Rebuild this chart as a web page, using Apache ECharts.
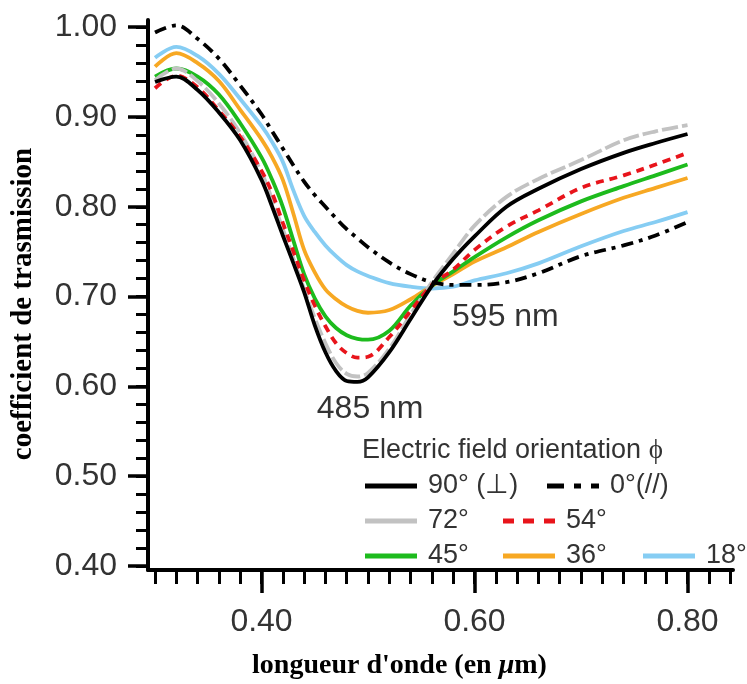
<!DOCTYPE html>
<html><head><meta charset="utf-8">
<script src="https://cdn.jsdelivr.net/npm/echarts@6/dist/echarts.min.js"></script>
<style>html,body{margin:0;padding:0;background:#fff}#c{width:747px;height:684px}</style>
</head><body><div id="c"></div>
<script>
// ---- data ----
const wavelength = [0.30,0.32,0.34,0.36,0.38,0.40,0.41,0.42,0.43,0.44,0.45,0.46,0.47,0.48,0.49,0.50,0.52,0.54,0.56,0.58,0.60,0.63,0.66,0.70,0.74,0.77,0.80];
const phi90 = [0.939,0.945,0.930,0.905,0.874,0.830,0.800,0.768,0.737,0.705,0.668,0.638,0.617,0.606,0.605,0.610,0.638,0.675,0.712,0.742,0.767,0.800,0.820,0.842,0.860,0.871,0.881];
const phi0  = [0.994,1.002,0.987,0.965,0.935,0.903,0.884,0.865,0.846,0.828,0.813,0.800,0.787,0.775,0.765,0.755,0.738,0.725,0.716,0.713,0.713,0.716,0.726,0.745,0.757,0.768,0.783];
const phi72 = [0.941,0.954,0.940,0.915,0.882,0.838,0.808,0.775,0.742,0.708,0.676,0.648,0.626,0.614,0.611,0.615,0.642,0.680,0.716,0.748,0.779,0.811,0.831,0.852,0.874,0.884,0.891];
const phi54 = [0.932,0.946,0.933,0.907,0.878,0.840,0.815,0.782,0.750,0.718,0.690,0.667,0.648,0.637,0.632,0.633,0.655,0.684,0.713,0.730,0.752,0.778,0.796,0.821,0.835,0.847,0.860];
const phi45 = [0.945,0.954,0.945,0.925,0.893,0.855,0.830,0.800,0.762,0.725,0.698,0.678,0.665,0.657,0.653,0.652,0.662,0.690,0.712,0.728,0.744,0.766,0.785,0.806,0.823,0.835,0.847];
const phi36 = [0.956,0.971,0.960,0.940,0.908,0.875,0.855,0.830,0.792,0.752,0.727,0.708,0.697,0.689,0.684,0.682,0.685,0.697,0.712,0.725,0.739,0.755,0.772,0.792,0.810,0.821,0.832];
const phi18 = [0.966,0.978,0.968,0.948,0.920,0.890,0.872,0.850,0.818,0.790,0.772,0.757,0.745,0.735,0.728,0.723,0.715,0.711,0.709,0.711,0.718,0.726,0.737,0.756,0.773,0.783,0.794];

const seriesNames = ['90° (⊥)','0°(//)','72°','54°','45°','36°','18°'];
const legendTitle = 'Electric field orientation';
const xTitle = "longueur d'onde (en ";
const yTitle = 'coefficient de trasmission';
const xMajorTicks = [0.40,0.60,0.80];
const yMajorTicks = [0.40,0.50,0.60,0.70,0.80,0.90,1.00];
const annotations = [
  {text:'485 nm', x:0.502, y:0.575},
  {text:'595 nm', x:0.629, y:0.677}
];

// minor tick positions (every 0.02)
const xMinorTicks = [];
for (let i = 15; i <= 42; i++) xMinorTicks.push(+(i*0.02).toFixed(2));
const yMinorTicks = [];
for (let i = 20; i <= 50; i++) yMinorTicks.push(+(i*0.02).toFixed(2));

const pairs = arr => wavelength.map((w,i)=>[w, arr[i]]);

const solidIcon = 'path://M0,0H52V5H0Z';
const dashDotIcon = 'path://M0,0H17V5H0Z M27,0H34V5H27Z M44,0H52V5H44Z';
const dashIcon = 'path://M0,0H11V5H0Z M20,0H31V5H20Z M41,0H52V5H41Z';

const styles = {
  '90° (⊥)': {color:'#000000', type:'solid', z:6, icon: solidIcon},
  '0°(//)':  {color:'#000000', type:[12,6,4,6], z:7, icon: dashDotIcon},
  '72°':     {color:'#c2c2c2', type:[16,4], z:4, icon: solidIcon},
  '54°':     {color:'#e8141b', type:[8,6], z:5, icon: dashIcon},
  '45°':     {color:'#1dbb1d', type:'solid', z:3, icon: solidIcon},
  '36°':     {color:'#f7a823', type:'solid', z:2, icon: solidIcon},
  '18°':     {color:'#86cdf3', type:'solid', z:1, icon: solidIcon}
};
const values = {'90° (⊥)':phi90,'0°(//)':phi0,'72°':phi72,'54°':phi54,'45°':phi45,'36°':phi36,'18°':phi18};

const font = "'Liberation Sans', Arial, sans-serif";
const serif = "'Liberation Serif', 'Times New Roman', serif";

const series = seriesNames.map(n => ({
  name: n, type: 'line', data: pairs(values[n]), symbol: 'none', smooth: 0.35,
  z: styles[n].z,
  lineStyle: {color: styles[n].color, width: 3.8, type: styles[n].type},
  itemStyle: {color: styles[n].color},
  emphasis: {disabled: true}
}));
series[0].markPoint = {
  symbol: 'circle', symbolSize: 0, silent: true,
  label: {show: true, position: 'inside', formatter: p => p.name, fontSize: 32, color: '#333', fontFamily: font},
  data: annotations.map(a => ({name: a.text, coord: [a.x, a.y]}))
};

const legendPos = {
  '90° (⊥)': [365, 486], '0°(//)': [547, 486],
  '72°': [365, 521], '54°': [503, 521],
  '45°': [365, 556], '36°': [503, 556], '18°': [643, 556]
};
const legends = seriesNames.map(n => ({
  data: [{name: n, icon: styles[n].icon, itemStyle: {color: styles[n].color}}],
  left: legendPos[n][0], top: legendPos[n][1] - 14, padding: 0,
  itemWidth: 52, itemHeight: 5, selectedMode: false,
  textStyle: {fontSize: 27, color: '#333', fontFamily: font, lineHeight: 28, padding: [0,0,0,6]}
}));

const xMin = 0.2934, xMax = 0.8427, yMin = 0.3955, yMax = 1.008;

const option = {
  animation: false,
  backgroundColor: '#fff',
  title: {
    text: legendTitle + ' {p|ϕ}', left: 362, top: 437, padding: 0,
    textStyle: {fontSize: 27, fontWeight: 'normal', color: '#333', fontFamily: font, lineHeight: 28,
      rich: {p: {fontSize: 27, fontFamily: serif, color: '#333'}}}
  },
  legend: legends,
  grid: {left: 148, right: 14, top: 20, bottom: 114, containLabel: false, outerBoundsMode: 'none'},
  xAxis: [
    {type: 'value', min: xMin, max: xMax, position: 'bottom',
     axisLine: {show: true, lineStyle: {color: '#000', width: 4}},
     axisTick: {show: true, customValues: xMinorTicks, length: 14, lineStyle: {color: '#000', width: 3}},
     axisLabel: {show: false}, splitLine: {show: false}},
    {type: 'value', min: xMin, max: xMax, position: 'bottom',
     axisLine: {show: false},
     axisTick: {show: true, customValues: xMajorTicks, length: 23, lineStyle: {color: '#000', width: 3.5}},
     axisLabel: {show: true, customValues: xMajorTicks, formatter: v => v.toFixed(2), margin: 36,
       fontSize: 32, color: '#333', fontFamily: font},
     splitLine: {show: false},
     name: xTitle + '{i|μ}m)', nameLocation: 'middle', nameGap: 82,
     nameTextStyle: {fontSize: 28, fontWeight: 'bold', fontFamily: serif, color: '#000', padding: [0, 82, 0, 0],
       rich: {i: {fontSize: 28, fontWeight: 'bold', fontStyle: 'italic', fontFamily: serif, color: '#000'}}}}
  ],
  yAxis: [
    {type: 'value', min: yMin, max: yMax, position: 'left',
     axisLine: {show: true, lineStyle: {color: '#000', width: 4}},
     axisTick: {show: true, customValues: yMinorTicks, length: 12, lineStyle: {color: '#000', width: 3}},
     axisLabel: {show: false}, splitLine: {show: false}},
    {type: 'value', min: yMin, max: yMax, position: 'left',
     axisLine: {show: false},
     axisTick: {show: true, customValues: yMajorTicks, length: 20, lineStyle: {color: '#000', width: 3.5}},
     axisLabel: {show: true, customValues: yMajorTicks, formatter: v => v.toFixed(2), margin: 31,
       fontSize: 32, color: '#333', fontFamily: font},
     splitLine: {show: false},
     name: yTitle, nameLocation: 'middle', nameGap: 110, nameRotate: 90,
     nameTextStyle: {fontSize: 29, fontWeight: 'bold', fontFamily: serif, color: '#000', padding: [0, 18, 0, 0]}}
  ],
  series: series
};

const chart = echarts.init(document.getElementById('c'), null, {renderer: 'canvas'});
chart.setOption(option);
</script>
</body></html>
